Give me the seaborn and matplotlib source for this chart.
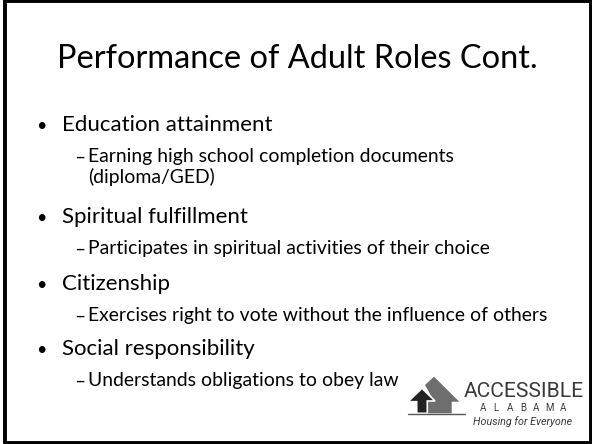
import matplotlib
matplotlib.use("Agg")
import matplotlib.pyplot as plt
import seaborn as sns
from matplotlib.patches import Rectangle, Polygon

# ===== SLIDE CONTENT =====
TITLE = "Performance of Adult Roles Cont."
TOPICS = ["Education attainment", "Spiritual fulfillment", "Citizenship", "Social responsibility"]
DETAILS = [
    ["Earning high school completion documents", "(diploma/GED)"],
    ["Participates in spiritual activities of their choice"],
    ["Exercises right to vote without the influence of others"],
    ["Understands obligations to obey law"],
]
LOGO_NAME = "ACCESSIBLE"
LOGO_STATE = "ALABAMA"
LOGO_TAG = "Housing for Everyone"

# ===== LAYOUT (pixels) =====
W, H = 592, 444
FONT = ["Lato", "DejaVu Sans"]

sns.set_theme(style="white")
plt.rcParams["font.family"] = FONT

fig = plt.figure(figsize=(W / 100, H / 100), dpi=100)
ax = fig.add_axes([0, 0, 1, 1])
ax.set_xlim(0, W)
ax.set_ylim(H, 0)
ax.axis("off")
renderer = fig.canvas.get_renderer()


def fit_size(s, width, **kw):
    t = ax.text(0, 0, s, fontsize=10, **kw)
    w = t.get_window_extent(renderer).width
    t.remove()
    return 10 * width / w


# slide frame
ax.add_patch(Rectangle((5, 1.5), 586, 441, fill=False, ec="black", lw=2.8, zorder=5))

# title
ts = fit_size(TITLE, 480)
ax.text(297, 68, TITLE, fontsize=ts, ha="center", va="baseline", color="black")

# bullets
l2 = fit_size(DETAILS[2][0], 461)
l1 = fit_size(TOPICS[0], 210)
topic_y = [131, 222.7, 290, 355]
for i, topic in enumerate(TOPICS):
    y = topic_y[i]
    ax.text(41, y, "\u2022", fontsize=l1 * 0.8, ha="center", va="baseline", color="black")
    ax.text(62, y, topic, fontsize=l1, va="baseline", color="black")
    for j, line in enumerate(DETAILS[i]):
        yy = y + 31 + j * 21
        if j == 0:
            ax.text(80, yy, "\u2013", fontsize=l2 * 0.95, family="DejaVu Sans", ha="center",
                    va="baseline", color="black")
        ax.text(88, yy, line, fontsize=l2, va="baseline", color="black")

# logo house
gray = Polygon([(425, 385), (434, 376.7), (459.3, 401.7), (451.7, 401.7), (451.7, 413.3),
                (428, 413.3), (428, 401), (434, 401)], closed=True, fc="#6e6e6e", ec="none", zorder=6)
ax.add_patch(gray)
dark = Polygon([(408, 401.7), (422, 388.3), (435, 401), (427.3, 401), (427.3, 413.3),
                (416.7, 413.3), (416.7, 401.7)], closed=True, fc="#222222", ec="white", lw=1.2, zorder=7)
ax.add_patch(dark)
ax.plot([408, 465], [414, 414], color="#555555", lw=1, zorder=7)

ns = fit_size(LOGO_NAME, 119, family="Roboto")
ax.text(463.5, 397, LOGO_NAME, fontsize=ns, family="Roboto", va="baseline", color="#3a3a3a", zorder=7)
for k, ch in enumerate(LOGO_STATE):
    ax.text(483 + k * 13.3, 410.5, ch, fontsize=7, family="Roboto", ha="center", va="baseline",
            color="#3a3a3a", zorder=7)
gs = fit_size(LOGO_TAG, 99, family="Roboto", style="italic")
ax.text(472.7, 424.5, LOGO_TAG, fontsize=gs, family="Roboto", style="italic", va="baseline",
        color="#3a3a3a", zorder=7)

fig.savefig("out.png", dpi=100, facecolor="white")
